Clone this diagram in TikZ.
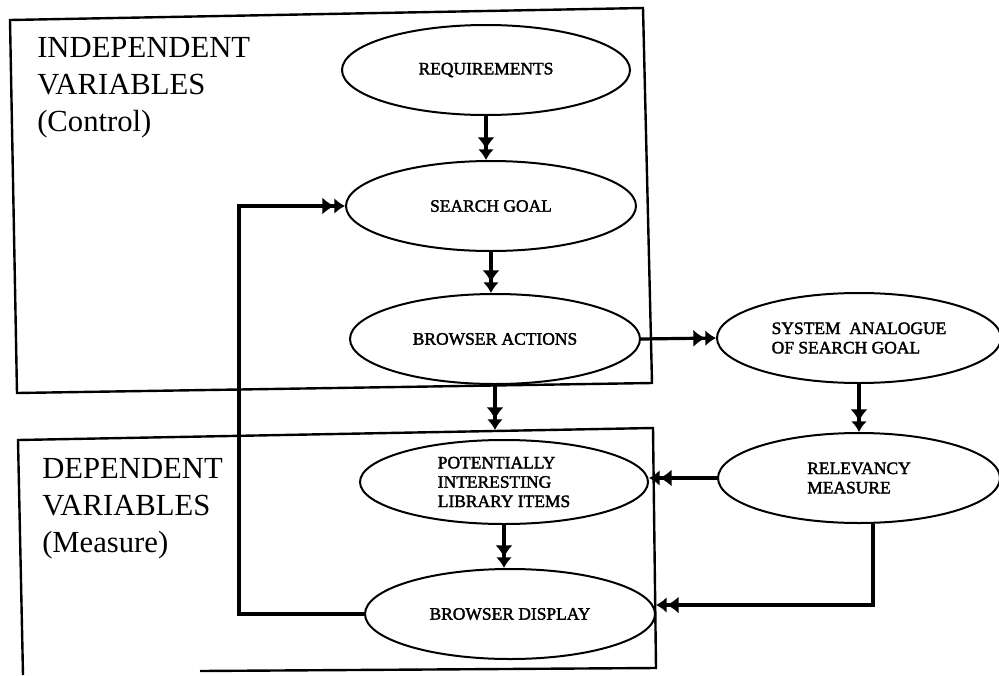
\documentclass[tikz,border=0pt]{standalone}
\usepackage{fontspec}
\setmainfont{Liberation Serif}
\newfontfamily\ovalfont[FakeBold=2]{Liberation Serif}
\usetikzlibrary{shapes.geometric,arrows.meta,calc}
\begin{document}
\begin{tikzpicture}[x=0.75pt,y=-0.75pt,
  oval/.style={draw, ellipse, line width=1.5pt, inner sep=0pt,
    font=\ovalfont\fontsize{13.1}{14.5}\selectfont, align=left},
  frame/.style={draw, line width=1.8pt},
  big/.style={anchor=north west, inner sep=0pt, align=left,
    font=\fontsize{23}{27.8}\selectfont},
  arr/.style={line width=2.4pt,
    -{Latex[length=9pt,width=13pt] Latex[length=8pt,width=12pt]}}]
\useasboundingbox (0,0) rectangle (999,675);

% group frames
\draw[frame] (10,20) -- (643,8) -- (652,383) -- (17,393) -- cycle;
\draw[frame] (200,671) -- (656,668) -- (653,428) -- (18,440) -- (23,675);

% group captions
\node[big] (indep) at (37,37) {INDEPENDENT\\VARIABLES\\(Control)};
\node[big] (dep) at (42,458) {DEPENDENT\\VARIABLES\\(Measure)};

% process ovals
\node[oval, minimum width=216pt, minimum height=67.5pt] (req) at (486,70) {REQUIREMENTS};
\node[oval, minimum width=217.5pt, minimum height=67.5pt] (sg) at (491,206) {SEARCH GOAL};
\node[oval, minimum width=217.5pt, minimum height=67.5pt] (ba) at (495,339) {BROWSER ACTIONS};
\node[oval, minimum width=216pt, minimum height=63pt] (pi) at (504,482) {POTENTIALLY\\INTERESTING\\LIBRARY ITEMS};
\node[oval, minimum width=217.5pt, minimum height=67.5pt] (bd) at (510,614) {BROWSER DISPLAY};
\node[oval, minimum width=213pt, minimum height=67.5pt] (sa) at (859,338) {SYSTEM\ \ ANALOGUE\\OF SEARCH GOAL};
\node[oval, minimum width=211.5pt, minimum height=67.5pt] (rm) at (859,478) {RELEVANCY\\MEASURE};

% routing points
\coordinate (fb) at (239,0);
\coordinate (rmturn) at (873,605);

% connectors
\draw[arr] (req.south) -- (req.south |- sg.north);
\draw[arr] (sg.south) -- (sg.south |- ba.north);
\draw[arr] (ba.south) -- ($(ba.south |- pi.north)+(0,-9)$);
\draw[arr] (pi.south) -- (pi.south |- bd.north);
\draw[arr] (ba.east) -- (sa.west);
\draw[arr] (sa.south) -- (sa.south |- rm.north);
\draw[arr] (rm.west) -- (rm.west -| pi.east);
\draw[arr] (rm.south -| rmturn) -- (rmturn) -- (rmturn -| bd.east);
\draw[arr] (bd.west) -- (bd.west -| fb) |- (sg.west);
\end{tikzpicture}
\end{document}
